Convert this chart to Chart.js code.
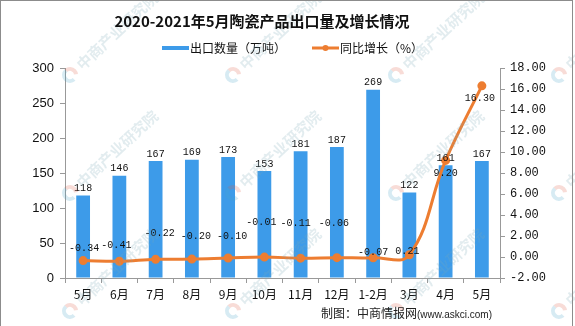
<!DOCTYPE html>
<html>
<head>
<meta charset="utf-8">
<script src="https://cdn.jsdelivr.net/npm/chart.js@4.4.1/dist/chart.umd.min.js"></script>
<style>
  body { margin: 0; background: #fff; }
  .wrap { position: relative; width: 575px; height: 326px; overflow: hidden; }
  canvas { position: absolute; left: 0; top: 0; }
  .frame { position: absolute; left: 0; top: 0; width: 571px; height: 326px; border: 1px solid #8c8c8c; border-bottom: none; pointer-events: none; }
  .title { position: absolute; top: 10px; left: 0; width: 524px; text-align: center; font: bold 15px "Noto Sans CJK SC"; color: #111; }
  .source { position: absolute; right: 83px; top: 304px; font: 12px "Noto Sans CJK SC"; color: #222; white-space: nowrap; }
  .source small { font: 10px "Liberation Sans"; }
</style>
</head>
<body>
<div class="wrap">
  <canvas id="chart" width="575" height="326"></canvas>
  <div class="title">2020-2021年5月陶瓷产品出口量及增长情况</div>
  <div class="source">制图：中商情报网<small>(www.askci.com)</small></div>
  <div class="frame"></div>
</div>
<script>
const months = ["5月", "6月", "7月", "8月", "9月", "10月", "11月", "12月", "1-2月", "3月", "4月", "5月"];
const exportVolume = [118, 146, 167, 169, 173, 153, 181, 187, 269, 122, 161, 167];
const yoyGrowth = [-0.34, -0.41, -0.22, -0.20, -0.10, -0.01, -0.11, -0.06, -0.07, 0.21, 9.20, 16.30];
const volumeLabel = "出口数量（万吨）";
const growthLabel = "同比增长（%）";

const BLUE = "#3d9be9";
const ORANGE = "#ed7d31";

// where each growth label sits relative to its point [dx, dy]
const growthLabelShift = [[1, -12], [-3, -16], [4, -26], [4, -23], [4, -22], [-3, -35],
  [-5, -35], [-3, -34], [0, -5], [-2, -3], [0, 13], [-2, 13]];

const valueLabels = {
  id: "valueLabels",
  afterDatasetsDraw(chart) {
    const ctx = chart.ctx;
    ctx.save();
    ctx.font = "10px 'Liberation Mono'";
    ctx.fillStyle = "#111";
    ctx.textAlign = "center";
    chart.getDatasetMeta(0).data.forEach((bar, i) => {
      ctx.textBaseline = "bottom";
      ctx.fillText(exportVolume[i], bar.x, bar.y - 2);
    });
    chart.getDatasetMeta(1).data.forEach((pt, i) => {
      const [dx, dy] = growthLabelShift[i];
      ctx.textBaseline = "middle";
      ctx.fillText(yoyGrowth[i].toFixed(2), pt.x + dx, pt.y + dy);
    });
    ctx.restore();
  }
};

const legendAndMarks = {
  id: "legendAndMarks",
  afterDraw(chart) {
    const ctx = chart.ctx;
    ctx.save();
    // legend
    ctx.fillStyle = BLUE;
    ctx.fillRect(162, 46, 27, 4);
    ctx.strokeStyle = ORANGE;
    ctx.lineWidth = 3;
    ctx.beginPath();
    ctx.moveTo(312, 48);
    ctx.lineTo(339, 48);
    ctx.stroke();
    ctx.fillStyle = ORANGE;
    ctx.beginPath();
    ctx.arc(325.5, 48, 3, 0, Math.PI * 2);
    ctx.fill();
    ctx.fillStyle = "#111";
    ctx.font = "12px 'Noto Sans CJK SC'";
    ctx.textBaseline = "middle";
    ctx.fillText(volumeLabel, 190, 48);
    ctx.fillText(growthLabel, 340, 48);

    // faint diagonal watermark
    ctx.globalAlpha = 0.22;
    ctx.font = "bold 15px 'Noto Sans CJK SC'";
    for (let gx = 70 - 163; gx < 700; gx += 163) {
      for (let gy = 75 - 118; gy < 420; gy += 118) {
        ctx.save();
        ctx.translate(gx, gy);
        ctx.rotate(-0.75);
        ctx.lineWidth = 4;
        ctx.strokeStyle = "#4aa3c8";
        ctx.beginPath();
        ctx.arc(0, 0, 6, Math.PI * 0.5, Math.PI * 1.5);
        ctx.stroke();
        ctx.strokeStyle = "#e0604a";
        ctx.beginPath();
        ctx.arc(0, 0, 6, Math.PI * 1.5, Math.PI * 2.2);
        ctx.stroke();
        ctx.fillStyle = "#7aa8b8";
        ctx.textBaseline = "middle";
        ctx.fillText("中商产业研究院", 12, 0);
        ctx.restore();
      }
    }
    ctx.restore();
  }
};

new Chart(document.getElementById("chart"), {
  data: {
    labels: months,
    datasets: [
      {
        type: "bar",
        label: volumeLabel,
        data: exportVolume,
        backgroundColor: BLUE,
        barPercentage: 0.38,
        categoryPercentage: 1,
        yAxisID: "y",
        order: 1
      },
      {
        type: "line",
        label: growthLabel,
        data: yoyGrowth,
        borderColor: ORANGE,
        backgroundColor: ORANGE,
        borderWidth: 3,
        pointRadius: 3,
        pointHoverRadius: 3,
        tension: 0.4,
        yAxisID: "y1",
        order: 0
      }
    ]
  },
  options: {
    responsive: false,
    animation: false,
    events: [],
    layout: { padding: { top: 68, left: 0, right: 0, bottom: 0 } },
    plugins: {
      legend: { display: false },
      title: { display: false },
      tooltip: { enabled: false }
    },
    scales: {
      x: {
        afterFit(scale) { scale.height = 48; },
        grid: { offset: true, drawOnChartArea: false, tickLength: 5, color: "#999" },
        border: { color: "#999" },
        ticks: {
          color: "#111",
          padding: 4,
          maxRotation: 0,
          autoSkip: false,
          font: { family: "Noto Sans CJK SC", size: 12 }
        }
      },
      y: {
        position: "left",
        min: 0,
        max: 300,
        afterFit(scale) { scale.width = 65; },
        grid: { drawOnChartArea: false, tickLength: 5, color: "#999" },
        border: { color: "#999" },
        ticks: {
          stepSize: 50,
          color: "#111",
          padding: 6,
          font: { family: "Liberation Sans", size: 13 }
        }
      },
      y1: {
        position: "right",
        min: -2,
        max: 18,
        afterFit(scale) { scale.width = 75; },
        grid: { drawOnChartArea: false, tickLength: 5, color: "#999" },
        border: { color: "#999" },
        ticks: {
          stepSize: 2,
          color: "#111",
          padding: 5,
          font: { family: "Liberation Mono", size: 12 },
          callback: v => v.toFixed(2)
        }
      }
    }
  },
  plugins: [valueLabels, legendAndMarks]
});
</script>
</body>
</html>
